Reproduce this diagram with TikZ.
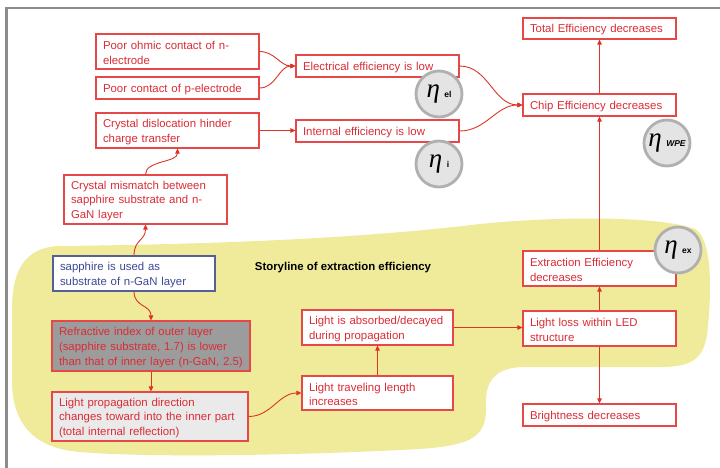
\documentclass[tikz,border=0pt]{standalone}
\usepackage{fontspec}
\setmainfont{Liberation Sans}
\setsansfont{Liberation Sans}
\newfontfamily\etafont{Liberation Serif}
\usetikzlibrary{arrows.meta}
\definecolor{boxred}{RGB}{230,72,72}
\definecolor{textred}{RGB}{218,44,54}
\definecolor{linered}{RGB}{222,52,40}
\definecolor{blobyellow}{RGB}{239,235,155}
\definecolor{darkfill}{RGB}{156,156,156}
\definecolor{lightfill}{RGB}{234,234,234}
\definecolor{blueborder}{RGB}{86,96,152}
\definecolor{bluetext}{RGB}{62,72,150}
\definecolor{circgray}{RGB}{176,176,176}
\definecolor{circfill}{RGB}{228,228,228}
\definecolor{framegray}{RGB}{140,140,140}
\newcommand{\mainfs}{\fontsize{11.4}{14.8}\selectfont}
\newcommand{\etafs}{\fontsize{27}{27}\selectfont}
\newcommand{\subfs}{\fontsize{8.5}{9}\selectfont\sffamily\bfseries}
\newcommand{\etaglyph}{{\etafont\itshape η}}
\begin{document}
\begin{tikzpicture}[x=1pt,y=-1pt,
  rbox/.style={draw=boxred, line width=1.1pt, fill=white, text=textred, font=\mainfs,
    align=left, inner xsep=7pt, inner ysep=2pt,
    execute at begin node={\rule{0pt}{11pt}}},
  bbox/.style={rbox, draw=blueborder, text=bluetext},
  conn/.style={draw=linered, line width=0.9pt, -{Triangle[length=5pt,width=4.5pt]}},
  etacirc/.style={circle, draw=circgray, line width=2.8pt, fill=circfill,
    minimum size=46pt, inner sep=0pt, font=\etafs},
  storytext/.style={font=\mainfs\bfseries, text=black}]
\useasboundingbox (0,0) rectangle (720,468);
\fill[white] (0,0) rectangle (720,468);
% frame
\draw[framegray, line width=2.7pt] (6.5,468) -- (6.5,8) -- (720,8);
% yellow blob
\fill[blobyellow] (60,246) .. controls (250,244) and (380,236) .. (480,224)
  .. controls (560,216) and (660,216) .. (695,229)
  .. controls (714,240) and (711,300) .. (707,335)
  .. controls (703,360) and (690,367) .. (660,367) -- (522,367)
  .. controls (492,368) and (485,385) .. (486,405)
  .. controls (487,440) and (470,447) .. (400,450)
  .. controls (300,455) and (150,458) .. (80,452)
  .. controls (30,448) and (12,420) .. (12,380) -- (12,310)
  .. controls (12,270) and (25,247) .. (60,246) -- cycle;
% boxes
\node[rbox, text width=149pt, minimum height=35pt] (n1) at (177.5,51.5) {Poor ohmic contact of n-\\electrode};
\node[rbox, text width=149pt, minimum height=22pt] (n2) at (177.5,88) {Poor contact of p-electrode};
\node[rbox, text width=149pt, minimum height=35pt] (n3) at (177.5,130.5) {Crystal dislocation hinder\\charge transfer};
\node[rbox, text width=149pt, minimum height=49pt] (n4) at (145.5,199.5) {Crystal mismatch between\\sapphire substrate and n-\\GaN layer};
\node[rbox, text width=149pt, minimum height=22pt] (elec) at (377.5,66) {Electrical efficiency is low};
\node[rbox, text width=149pt, minimum height=22pt] (intl) at (377.5,131) {Internal efficiency is low};
\node[rbox, text width=139pt, minimum height=22pt] (chip) at (599.5,105) {Chip Efficiency decreases};
\node[rbox, text width=139pt, minimum height=21pt] (total) at (599.5,28.5) {Total Efficiency decreases};
\node[rbox, text width=139pt, minimum height=35pt] (extr) at (599.5,268.5) {Extraction Efficiency\\decreases};
\node[rbox, text width=139pt, minimum height=35pt] (loss) at (599.5,328.5) {Light loss within LED\\structure};
\node[rbox, text width=139pt, minimum height=22pt] (bright) at (599.5,415) {Brightness decreases};
\node[rbox, text width=137pt, minimum height=35pt] (absorb) at (377.5,327.5) {Light is absorbed/decayed\\during propagation};
\node[rbox, text width=137pt, minimum height=34pt] (travel) at (377.5,393) {Light traveling length\\increases};
\node[bbox, text width=148pt, minimum height=35pt] (sapph) at (134,273.5) {sapphire is used as\\substrate of n-GaN layer};
\node[rbox, fill=darkfill, text width=184pt, minimum height=50pt] (refr) at (151,346) {Refractive index of outer layer\\(sapphire substrate, 1.7) is lower\\than that of inner layer (n-GaN, 2.5)};
\node[rbox, fill=lightfill, text width=182pt, minimum height=49pt] (prop) at (150,416.5) {Light propagation direction\\changes toward into the inner part\\(total internal reflection)};
\node[storytext] (story) at (343,268) {Storyline of extraction efficiency};
% connectors
\draw[conn] (n1.east) to[out=0,in=180] (elec.west);
\draw[conn] (n2.east) to[out=0,in=180] (elec.west);
\draw[conn] (n3.east) -- (n3.east -| intl.west);
\draw[conn] (elec.east) to[out=0,in=180] (chip.west);
\draw[conn] (intl.east) to[out=0,in=180] (chip.west);
\draw[conn] (chip.north) -- (total.south);
\draw[conn] (extr.north) -- (chip.south);
\draw[conn] (loss.north) -- (extr.south);
\draw[conn] (loss.south) -- (bright.north);
\draw[conn] (absorb.east) -- (absorb.east -| loss.west);
\draw[conn] (travel.north) -- (absorb.south);
\draw[conn] (prop.east) to[out=0,in=180] (travel.west);
\draw[conn] (refr.south) -- (refr.south |- prop.north);
\draw[conn] (sapph.south) .. controls ([yshift=-16pt]sapph.south) and ([yshift=16pt]refr.north) .. (refr.north);
\draw[conn] (sapph.north) .. controls ([yshift=16pt]sapph.north) and ([yshift=-16pt]n4.south) .. (n4.south);
\draw[conn] (n4.north) .. controls ([yshift=14pt]n4.north) and ([yshift=-14pt]n3.south) .. (n3.south);
% eta circles
\node[etacirc] (cel) at (439,94) {\etaglyph\,{\subfs el}};
\node[etacirc] (ci) at (439,164) {\etaglyph\,{\subfs i}};
\node[etacirc] (cwpe) at (667,143) {\etaglyph\,{\subfs\itshape WPE}};
\node[etacirc] (cex) at (678,250) {\etaglyph\,{\subfs ex}};
\end{tikzpicture}
\end{document}
